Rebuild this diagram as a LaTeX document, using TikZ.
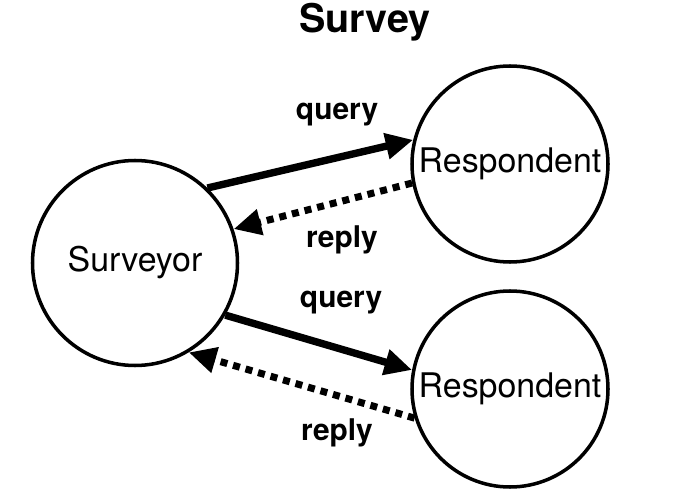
\documentclass[tikz,border=0pt]{standalone}
\usepackage{fontspec}
\setmainfont{TeX Gyre Heros}
\usepackage{tikz}
\usetikzlibrary{arrows.meta,positioning}
\tikzset{
  party/.style={draw,circle,line width=2pt,inner sep=0pt,font=\fontsize{19.3}{22}\selectfont},
  lbl/.style={font=\fontsize{17}{20}\selectfont\bfseries},
  arr/.style={-{Triangle[length=5.5mm,width=5mm]},line width=4.2pt},
  darr/.style={-{Triangle[length=5.5mm,width=5mm]},line width=4pt,dash pattern=on 4pt off 3.4pt},
}
\begin{document}
\begin{tikzpicture}
\useasboundingbox (0,0) rectangle (14,-9.82);
\node[font=\fontsize{22.5}{26}\selectfont\bfseries] (title) at (7.3,-0.44) {Survey};
\node[party,minimum size=4.1cm] (surveyor) at (2.70,-5.26) {Surveyor};
\node[party,minimum size=3.92cm] (resp1) at (10.2,-3.28) {Respondent};
\node[party,minimum size=3.92cm] (resp2) at (10.2,-7.78) {Respondent};
\draw[arr] (surveyor.46)--(resp1.166);
\draw[darr] (resp1.191)--(surveyor.19);
\draw[arr] (surveyor.-30)--(resp2.169);
\draw[darr] (resp2.197)--(surveyor.-59);
\node[lbl] (q1) at (6.74,-2.30) {query};
\node[lbl] (r1) at (6.84,-4.80) {reply};
\node[lbl] (q2) at (6.82,-6.06) {query};
\node[lbl] (r2) at (6.74,-8.66) {reply};
\end{tikzpicture}
\end{document}
